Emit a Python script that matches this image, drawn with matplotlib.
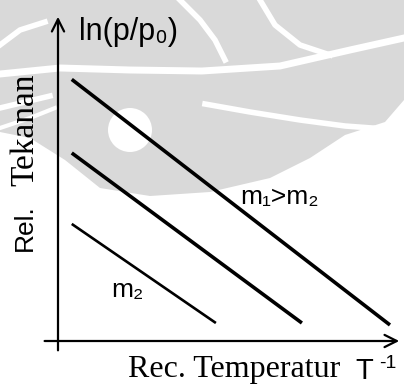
import matplotlib
matplotlib.use("Agg")
import matplotlib.pyplot as plt
from matplotlib.patches import Polygon, Circle

# schematic data (axis units 0..10)
line_x0 = [0.4, 0.4, 0.4]
line_y0 = [8.0, 5.75, 3.58]
line_x1 = [9.65, 7.09, 4.59]
line_y1 = [0.49, 0.55, 0.55]
line_w = [2.6, 2.6, 1.9]

y_label_top = "ln(p/p\u2080)"
x_label = "Rec. Temperatur"
label_big = "m\u2081>m\u2082"
label_small = "m\u2082"

fig = plt.figure(figsize=(4.04, 3.85), dpi=100)
fig.patch.set_facecolor("white")

# faint watermark behind the chart (rough shape, pixel coords)
bg = fig.add_axes([0, 0, 1, 1], zorder=0)
bg.set_xlim(0, 404)
bg.set_ylim(385, 0)
bg.axis("off")
grey = "#d9d9d9"
blob = [(0, 0), (404, 0), (404, 100), (385, 122), (345, 135), (310, 158), (270, 178),
        (210, 192), (150, 196), (100, 188), (65, 160), (30, 138), (0, 132)]
bg.add_patch(Polygon(blob, closed=True, fc=grey, ec="none"))
bg.plot([0, 60, 130, 202, 280, 350, 404], [74, 68, 70, 71, 66, 50, 38], color="white", lw=5)
bg.plot([205, 250, 300, 345, 372], [104, 112, 120, 126, 128], color="white", lw=4)
bg.plot([0, 25, 50], [108, 102, 96], color="white", lw=4)
bg.plot([0, 30, 55], [128, 118, 108], color="white", lw=3)
bg.plot([180, 200, 215, 225], [0, 20, 40, 60], color="white", lw=4)
bg.plot([260, 275, 300, 330], [0, 25, 45, 55], color="white", lw=4)
bg.add_patch(Circle((130, 130), 22, fc="white", ec="none"))
bg.plot([0, 20, 45], [45, 30, 22], color="white", lw=4)

ax = fig.add_axes([58 / 404, 44 / 385, 344 / 404, 327 / 385], zorder=1)
ax.set_xlim(0, 10)
ax.set_ylim(0, 10)
ax.axis("off")

for x0, y0, x1, y1, w in zip(line_x0, line_y0, line_x1, line_y1, line_w):
    ax.plot([x0, x1], [y0, y1], color="black", lw=w, solid_capstyle="butt")

# axes with arrows
arrow = dict(arrowstyle="->", color="black", lw=1.6, mutation_scale=22)
ax.annotate("", xy=(10, 0), xytext=(-0.47, 0), arrowprops=arrow, annotation_clip=False)
ax.annotate("", xy=(0, 10), xytext=(0, -0.37), arrowprops=arrow, annotation_clip=False)

sans = "Liberation Sans"
serif = ["Liberation Serif", "DejaVu Serif"]

ax.text(0.6, 9.45, y_label_top, fontsize=22, family=sans, ha="left", va="center")
ax.text(5.3, 4.4, label_big, fontsize=19, family=sans, ha="left", va="center")
ax.text(1.55, 1.55, label_small, fontsize=19, family=sans, ha="left", va="center")

fig.text(234 / 404, 1 - 369 / 385, x_label, fontsize=23, family=serif, ha="center", va="center")
fig.text(364 / 404, 1 - 371 / 385, "T", fontsize=21, family=sans, ha="center", va="center")
fig.text(388 / 404, 1 - 363 / 385, "-1", fontsize=14, family=sans, ha="center", va="center")

fig.text(25 / 404, 1 - 228 / 385, "Rel.", fontsize=19, family=sans, rotation=90,
         ha="center", va="center")
fig.text(25 / 404, 1 - 130 / 385, "Tekanan", fontsize=24, family=serif, rotation=90,
         ha="center", va="center")

fig.savefig("out.png", dpi=100)
